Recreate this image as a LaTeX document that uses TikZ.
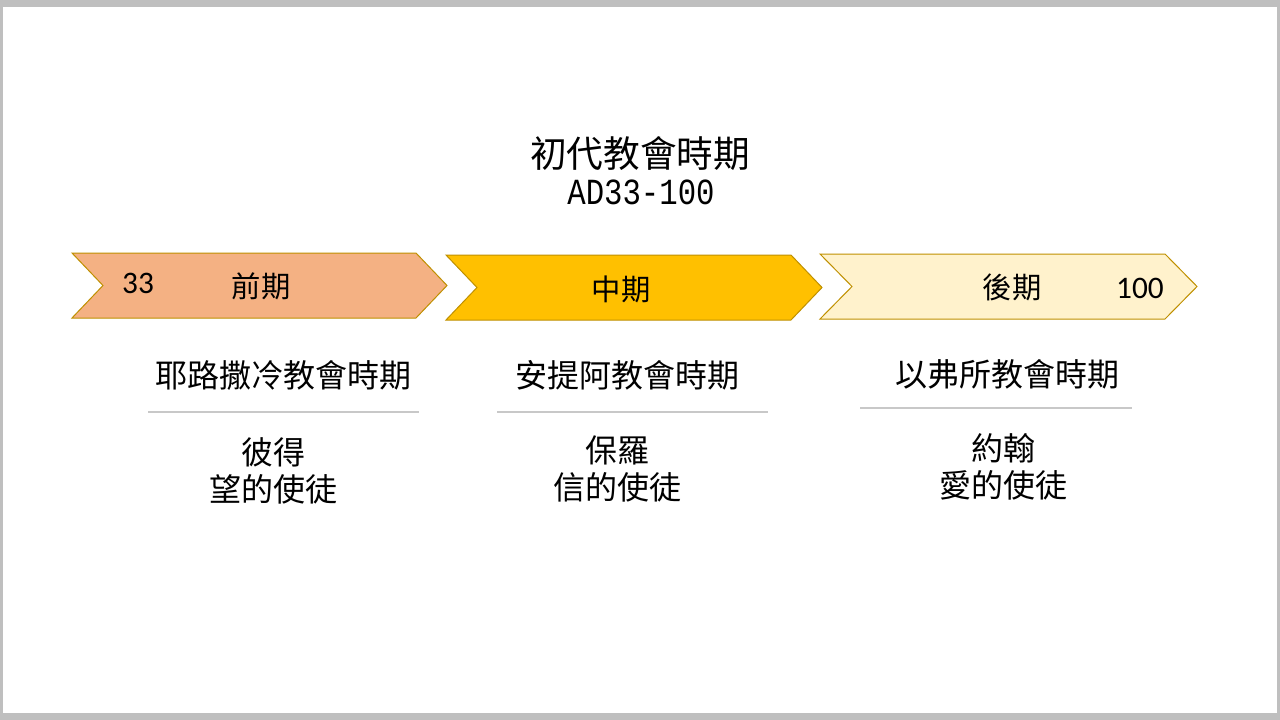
\documentclass[tikz,border=0pt]{standalone}
\usepackage{fontspec}
\usepackage{graphicx}
\newfontfamily\cjk{Noto Sans CJK TC}
\newfontfamily\monof{Liberation Mono}
\newfontfamily\numf{Carlito}
\definecolor{framegray}{HTML}{BFBFBF}
\definecolor{peach}{HTML}{F4B183}
\definecolor{gold}{HTML}{FFC000}
\definecolor{cream}{HTML}{FFF2CC}
\definecolor{edge}{HTML}{BF9000}
\definecolor{sepgray}{HTML}{C8C8C8}
\begin{document}
\begin{tikzpicture}[x=0.75pt,y=-0.75pt,
  chev/.style={draw=edge,line width=0.75pt,line join=miter},
  lbl/.style={inner sep=0pt,font=\cjk\fontsize{22}{26}\selectfont},
  num/.style={inner sep=0pt,font=\numf\fontsize{23.5}{26}\selectfont},
  head/.style={inner sep=0pt,font=\cjk\fontsize{24}{28}\selectfont},
  body/.style={inner sep=0pt,align=center,font=\cjk\fontsize{24}{27.75}\selectfont},
  sep/.style={draw=sepgray,line width=1.5pt}]
\useasboundingbox (0,0) rectangle (1280,720);
\fill[framegray] (0,0) rectangle (1280,720);
\fill[white] (3,7) rectangle (1277,713);
% title
\node[inner sep=0pt,font=\cjk\fontsize{27.5}{30}\selectfont] (title) at (640,154) {初代教會時期};
\node[inner sep=0pt,font=\monof\fontsize{23}{28}\selectfont] (range) at (641,192) {\scalebox{1}[1.2]{AD33-100}};
% chevrons
\path[chev,fill=peach] (72,253) -- (416,253) -- (447,285.5) -- (416,318) -- (72,318) -- (103,285.5) -- cycle;
\path[chev,fill=gold] (446,255) -- (791,255) -- (822,287.5) -- (791,320) -- (446,320) -- (477,287.5) -- cycle;
\path[chev,fill=cream] (820,254) -- (1165,254) -- (1197,286.5) -- (1165,319) -- (820,319) -- (852,286.5) -- cycle;
\node[num] (n33) at (138,283.5) {33};
\node[lbl] (early) at (261,286) {前期};
\node[lbl] (mid) at (621,289) {中期};
\node[lbl] (late) at (1012,287) {後期};
\node[num] (n100) at (1140,288) {100};
% columns
\node[head] (h1) at (283,375) {耶路撒冷教會時期};
\node[head] (h2) at (627,375) {安提阿教會時期};
\node[head] (h3) at (1007,374) {以弗所教會時期};
\coordinate (s1a) at (148,411.5); \coordinate (s1b) at (419,411.5);
\coordinate (s2a) at (497,411.5); \coordinate (s2b) at (768,411.5);
\coordinate (s3a) at (860,408); \coordinate (s3b) at (1132,408);
\draw[sep] (s1a) -- (s1b);
\draw[sep] (s2a) -- (s2b);
\draw[sep] (s3a) -- (s3b);
\node[body] (b1) at (273,471) {彼得\\望的使徒};
\node[body] (b2) at (617,468.5) {保羅\\信的使徒};
\node[body] (b3) at (1003,467) {約翰\\愛的使徒};
\end{tikzpicture}
\end{document}
